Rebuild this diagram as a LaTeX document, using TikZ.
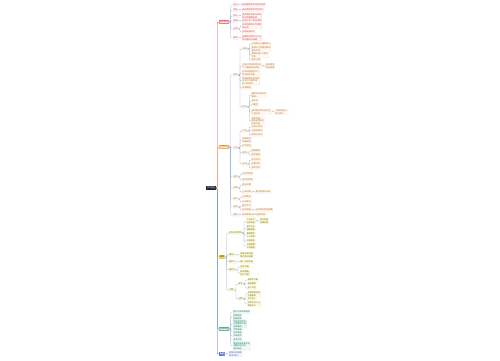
\documentclass[tikz,border=0pt]{standalone}
\usepackage{fontspec}
\newfontfamily\cjk{Noto Sans CJK SC}

\definecolor{navc}{HTML}{1C2541}
\definecolor{redc}{HTML}{E0463C}
\definecolor{orac}{HTML}{EE8A22}
\definecolor{yelc}{HTML}{E6CB00}
\definecolor{grnc}{HTML}{1F9E7A}
\definecolor{bluc}{HTML}{4856C8}
\definecolor{lnkc}{HTML}{8FB2D8}

\tikzset{
  txt/.style={font=\cjk\fontsize{1.75}{2.2}\selectfont},
  lnk/.style={draw=lnkc, line width=0.25pt, rounded corners=0.8pt},
  rootbox/.style={txt, anchor=west, fill=navc, text=white, inner sep=0.7pt},
  brbox/.style={txt, anchor=west, inner sep=0.6pt, line width=0.3pt, rounded corners=0.3pt},
  leaf/.style={txt, anchor=west, xshift=3.5pt, align=left, inner sep=0.35pt, line width=0.12pt, rounded corners=0.2pt},
  rl/.style={leaf, draw=redc!40, fill=redc!5, text=redc},
  ol/.style={leaf, draw=orac!40, fill=orac!5, text=orac!80!black},
  yl/.style={leaf, draw=yelc!60, fill=yelc!10, text=yelc!55!black},
  gl/.style={leaf, draw=grnc!40, fill=grnc!6, text=grnc!80!black},
  bl/.style={leaf, draw=bluc!40, fill=bluc!6, text=bluc}
}

\begin{document}
\begin{tikzpicture}[x=0.3mm,y=-0.3mm]
\useasboundingbox (0,0) rectangle (500,360);

\node[rootbox] (root) at (206,188) {学习笔记};
\node[brbox,draw=redc,fill=redc!12,text=redc] (B1) at (219,22) {基本概念};
\node[brbox,draw=orac,fill=orac!15,text=orac!85!black] (B2) at (219,147) {主要内容};
\node[brbox,draw=yelc,fill=yelc!60,text=black] (B3) at (219,257) {应用};
\node[brbox,draw=grnc,fill=grnc!15,text=grnc!80!black] (B4) at (219,329) {总结归纳};
\node[brbox,draw=bluc,fill=bluc!70,text=white] (B5) at (219,354) {拓展};

\foreach \b/\c in {B1/redc,B2/orac,B3/yelc,B4/grnc,B5/bluc}
  \draw[\c, line width=0.4pt, rounded corners=1pt] (root.east) -- ++(0.8pt,0) |- (\b.west);

% basic concepts
\node[rl] (r1) at (B1.east |- 0,5) {定义};
\node[rl] (r1a) at (r1.east |- 0,5) {概括事物本质特征的说明};
\node[rl] (r2) at (B1.east |- 0,10) {特征};
\node[rl] (r2a) at (r2.east |- 0,10) {具有明显的阶段性特点};
\node[rl] (r3) at (B1.east |- 0,16) {意义};
\node[rl] (r3a) at (r3.east |- 0,16) {提供理论依据与实践\\指导的重要基础};
\node[rl] (r4) at (B1.east |- 0,21) {范围};
\node[rl] (r4a) at (r4.east |- 0,21) {适用于多个相关领域};
\node[rl] (r5) at (B1.east |- 0,29) {分类};
\node[rl] (r5a) at (r5.east |- 0,26) {按照性质划分为两类\\或多类};
\node[rl] (r5b) at (r5.east |- 0,32) {按照来源划分};
\node[rl] (r6) at (B1.east |- 0,38) {要求};
\node[rl] (r6a) at (r6.east |- 0,38) {遵循科学原则与方法\\保持客观与准确};

% main content
\node[ol] (o1) at (B2.east |- 0,75) {结构};
\node[ol] (o1a) at (o1.east |- 0,49) {组成};
\node[ol] (o1a1) at (o1a.east |- 0,44) {主体部分与辅助部分};
\node[ol] (o1a2) at (o1a.east |- 0,49) {各部分之间相互联系\\相互作用};
\node[ol] (o1a3) at (o1a.east |- 0,55) {整体功能大于部分\\之和};
\node[ol] (o1a4) at (o1a.east |- 0,60) {层次分明};
\node[ol] (o1b) at (o1.east |- 0,66) {功能与作用体现在多\\个方面的综合表现};
\node[ol] (o1b1) at (o1b.east |- 0,66) {维持稳定\\促进发展};
\node[ol] (o1c) at (o1.east |- 0,73) {形成过程经历多个\\阶段逐步完善};
\node[ol] (o1d) at (o1.east |- 0,81) {影响因素包括内部\\条件与外部环境\\的共同作用};
\node[ol] (o1e) at (o1.east |- 0,88) {发展趋势};
\node[ol] (o1f) at (o1.east |- 0,107) {特点};
\node[ol] (o1f1) at (o1f.east |- 0,95) {整体性与层次性\\相统一};
\node[ol] (o1f2) at (o1f.east |- 0,101) {动态性};
\node[ol] (o1f3) at (o1f.east |- 0,105) {开放性};
\node[ol] (o1f4) at (o1f.east |- 0,112) {相对稳定性与变化性\\二者并存};
\node[ol] (o1f4a) at (o1f4.east |- 0,112) {二者辩证统一\\互为条件};
\node[ol] (o1f5) at (o1f.east |- 0,121) {适应性强\\能够自我调节\\不断完善};

\node[ol] (o2) at (B2.east |- 0,148) {方法};
\node[ol] (o2a) at (o2.east |- 0,131) {分析};
\node[ol] (o2a1) at (o2a.east |- 0,127) {比较分析法};
\node[ol] (o2a2) at (o2a.east |- 0,131) {归纳演绎法};
\node[ol] (o2a3) at (o2a.east |- 0,135) {综合分析法};
\node[ol] (o2b) at (o2.east |- 0,140) {调查研究\\收集资料};
\node[ol] (o2c) at (o2.east |- 0,146) {实验验证};
\node[ol] (o2d) at (o2.east |- 0,153) {模型};
\node[ol] (o2d1) at (o2d.east |- 0,151) {物理模型};
\node[ol] (o2d2) at (o2d.east |- 0,155) {数学模型};
\node[ol] (o2e) at (o2.east |- 0,164) {评价};
\node[ol] (o2e1) at (o2e.east |- 0,160) {定性评价};
\node[ol] (o2e2) at (o2e.east |- 0,164) {定量评价};
\node[ol] (o2e3) at (o2e.east |- 0,168) {综合评价};

\node[ol] (o3) at (B2.east |- 0,177) {原则};
\node[ol] (o3a) at (o3.east |- 0,174) {科学性原则};
\node[ol] (o3b) at (o3.east |- 0,180) {系统性原则};
\node[ol] (o4) at (B2.east |- 0,188) {步骤};
\node[ol] (o4a) at (o4.east |- 0,185) {提出问题};
\node[ol] (o4b) at (o4.east |- 0,192) {分析问题};
\node[ol] (o4b1) at (o4b.east |- 0,192) {解决问题并总结};
\node[ol] (o5) at (B2.east |- 0,199) {条件};
\node[ol] (o5a) at (o5.east |- 0,197) {内部条件};
\node[ol] (o5b) at (o5.east |- 0,202) {外部条件};
\node[ol] (o6) at (B2.east |- 0,207) {途径};
\node[ol] (o6a) at (o6.east |- 0,206) {理论学习};
\node[ol] (o6b) at (o6.east |- 0,210) {实践探索};
\node[ol] (o6b1) at (o6b.east |- 0,210) {在实践中检验真理};
\node[ol] (o7) at (B2.east |- 0,215) {案例};
\node[ol] (o7a) at (o7.east |- 0,215) {典型案例分析与经验总结};

% applications
\node[yl] (y1) at (B3.east |- 0,233) {实际应用领域};
\node[yl] (y1a) at (y1.east |- 0,221) {工业生产\\技术改进};
\node[yl] (y1a1) at (y1a.east |- 0,221) {农业发展\\资源利用};
\node[yl] (y1b) at (y1.east |- 0,228) {医疗卫生\\健康服务};
\node[yl] (y1c) at (y1.east |- 0,235) {教育教学\\人才培养};
\node[yl] (y1d) at (y1.east |- 0,241) {环境保护};
\node[yl] (y1e) at (y1.east |- 0,246) {社会管理\\公共服务};
\node[yl] (y2) at (B3.east |- 0,255) {案例一};
\node[yl] (y2a) at (y2.east |- 0,255) {具体实施过程\\取得良好效果};
\node[yl] (y3) at (B3.east |- 0,262) {案例二};
\node[yl] (y3a) at (y3.east |- 0,262) {推广应用价值};
\node[yl] (y4) at (B3.east |- 0,270) {案例三};
\node[yl] (y4a) at (y4.east |- 0,267) {存在问题};
\node[yl] (y4b) at (y4.east |- 0,273) {改进措施\\优化方案};
\node[yl] (y5) at (B3.east |- 0,290) {问题};
\node[yl] (y5a) at (y5.east |- 0,284) {现状};
\node[yl] (y5a1) at (y5a.east |- 0,280) {发展不平衡};
\node[yl] (y5a2) at (y5a.east |- 0,284) {基础薄弱};
\node[yl] (y5a3) at (y5a.east |- 0,288) {投入不足};
\node[yl] (y5b) at (y5.east |- 0,299) {对策};
\node[yl] (y5b1) at (y5b.east |- 0,294) {加强统筹规划\\完善制度};
\node[yl] (y5b2) at (y5b.east |- 0,299) {加大投入};
\node[yl] (y5b3) at (y5b.east |- 0,304) {培养专业人才\\提高水平};

% summary
\node[gl] (g1) at (B4.east |- 0,312) {理论与实践相结合};
\node[gl] (g2) at (B4.east |- 0,317) {把握规律\\提高效率};
\node[gl] (g3) at (B4.east |- 0,324) {坚持系统观念\\注重整体协调\\统筹兼顾};
\node[gl] (g4) at (B4.east |- 0,331) {不断创新\\持续发展};
\node[gl] (g5) at (B4.east |- 0,336) {总结经验};
\node[gl] (g6) at (B4.east |- 0,340) {反思不足};
\node[gl] (g7) at (B4.east |- 0,346) {展望未来发展方向\\明确目标任务\\稳步推进};

% extension
\node[bl] (b1) at (B5.east |- 0,354) {相关知识延伸\\参考资料};

\foreach \p/\c in {B1/r1,r1/r1a,B1/r2,r2/r2a,B1/r3,r3/r3a,B1/r4,r4/r4a,B1/r5,r5/r5a,r5/r5b,B1/r6,r6/r6a,
  B2/o1,o1/o1a,o1a/o1a1,o1a/o1a2,o1a/o1a3,o1a/o1a4,o1/o1b,o1b/o1b1,o1/o1c,o1/o1d,o1/o1e,o1/o1f,
  o1f/o1f1,o1f/o1f2,o1f/o1f3,o1f/o1f4,o1f4/o1f4a,o1f/o1f5,
  B2/o2,o2/o2a,o2a/o2a1,o2a/o2a2,o2a/o2a3,o2/o2b,o2/o2c,o2/o2d,o2d/o2d1,o2d/o2d2,o2/o2e,o2e/o2e1,o2e/o2e2,o2e/o2e3,
  B2/o3,o3/o3a,o3/o3b,B2/o4,o4/o4a,o4/o4b,o4b/o4b1,B2/o5,o5/o5a,o5/o5b,B2/o6,o6/o6a,o6/o6b,o6b/o6b1,B2/o7,o7/o7a,
  B3/y1,y1/y1a,y1a/y1a1,y1/y1b,y1/y1c,y1/y1d,y1/y1e,B3/y2,y2/y2a,B3/y3,y3/y3a,B3/y4,y4/y4a,y4/y4b,
  B3/y5,y5/y5a,y5a/y5a1,y5a/y5a2,y5a/y5a3,y5/y5b,y5b/y5b1,y5b/y5b2,y5b/y5b3,
  B4/g1,B4/g2,B4/g3,B4/g4,B4/g5,B4/g6,B4/g7,B5/b1}
  \draw[lnk] (\p.east) -- ++(1.6pt,0) |- (\c.west);
\end{tikzpicture}
\end{document}
